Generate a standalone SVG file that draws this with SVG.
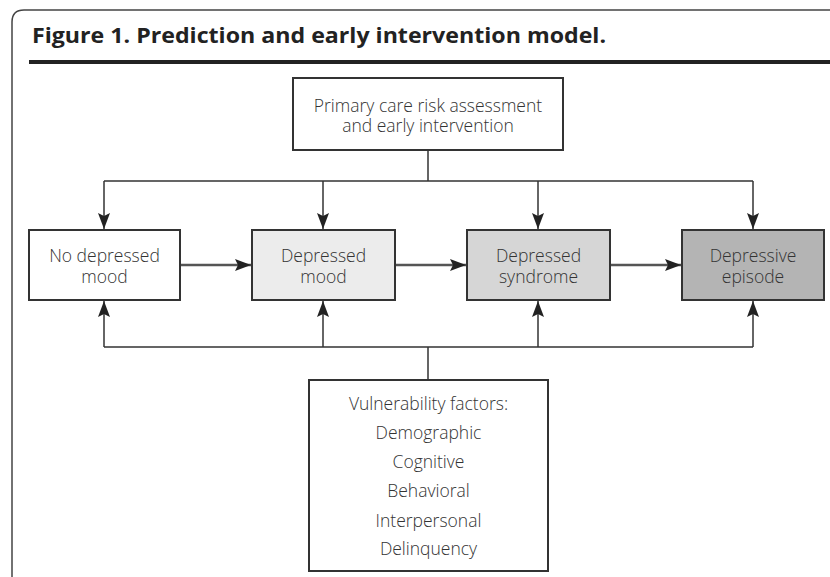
<svg xmlns="http://www.w3.org/2000/svg" width="830" height="577" viewBox="0 0 830 577">
<style>
.t{font-family:"Open Sans","Noto Sans","Liberation Sans",sans-serif;font-size:17.5px;font-weight:300;fill:#333;text-anchor:middle}
.box{stroke:#333;stroke-width:2}
.c{fill:none;stroke:#333;stroke-width:1.5}
.h{fill:none;stroke:#555;stroke-width:2.5}
</style>
<defs>
<marker id="ah" markerUnits="userSpaceOnUse" viewBox="0 0 16 12" markerWidth="16" markerHeight="12" refX="16" refY="6" orient="auto">
<path d="M0,0 L16,6 L0,12 L3,6 Z" fill="#222"/>
</marker>
</defs>
<rect width="830" height="577" fill="#fff"/>
<path d="M12,577 L12,22 Q12,10 24,10 L830,10" fill="none" stroke="#444" stroke-width="1.5"/>
<text x="32" y="43" font-family="'Open Sans','Noto Sans','Liberation Sans',sans-serif" font-weight="bold" font-size="22" fill="#222" textLength="574" lengthAdjust="spacingAndGlyphs">Figure 1. Prediction and early intervention model.</text>
<rect x="29" y="60" width="801" height="4" fill="#222"/>
<g id="top">
<rect class="box" x="293" y="78" width="270" height="72" fill="#fff"/>
<text class="t" x="428" y="112">Primary care risk assessment</text>
<text class="t" x="428" y="132">and early intervention</text>
</g>
<g id="n1">
<rect class="box" x="29" y="230" width="151" height="70" fill="#fff"/>
<text class="t" x="104.5" y="262">No depressed</text>
<text class="t" x="104.5" y="283">mood</text>
</g>
<g id="n2">
<rect class="box" x="252" y="230" width="143" height="70" fill="#ececec"/>
<text class="t" x="323.5" y="262">Depressed</text>
<text class="t" x="323.5" y="283">mood</text>
</g>
<g id="n3">
<rect class="box" x="467" y="230" width="143" height="70" fill="#d6d6d6"/>
<text class="t" x="538.5" y="262">Depressed</text>
<text class="t" x="538.5" y="283">syndrome</text>
</g>
<g id="n4">
<rect class="box" x="682" y="230" width="142" height="70" fill="#b4b4b4"/>
<text class="t" x="753" y="262">Depressive</text>
<text class="t" x="753" y="283">episode</text>
</g>
<g id="vul">
<rect class="box" x="309" y="380" width="239" height="191" fill="#fff"/>
<text class="t" x="428.5" y="410">Vulnerability factors:</text>
<text class="t" x="428.5" y="439">Demographic</text>
<text class="t" x="428.5" y="468">Cognitive</text>
<text class="t" x="428.5" y="497">Behavioral</text>
<text class="t" x="428.5" y="527">Interpersonal</text>
<text class="t" x="428.5" y="555">Delinquency</text>
</g>
<g id="connectors">
<path class="c" d="M428,150 V181 M104,181 H753"/>
<path class="c" d="M104,181 V229" marker-end="url(#ah)"/>
<path class="c" d="M323,181 V229" marker-end="url(#ah)"/>
<path class="c" d="M538,181 V229" marker-end="url(#ah)"/>
<path class="c" d="M753,181 V229" marker-end="url(#ah)"/>
<path class="c" d="M428,380 V347 M104,347 H753"/>
<path class="c" d="M104,347 V301" marker-end="url(#ah)"/>
<path class="c" d="M323,347 V301" marker-end="url(#ah)"/>
<path class="c" d="M538,347 V301" marker-end="url(#ah)"/>
<path class="c" d="M753,347 V301" marker-end="url(#ah)"/>
<path class="h" d="M181,265 H251" marker-end="url(#ah)"/>
<path class="h" d="M396,265 H466" marker-end="url(#ah)"/>
<path class="h" d="M611,265 H681" marker-end="url(#ah)"/>
</g>
</svg>
